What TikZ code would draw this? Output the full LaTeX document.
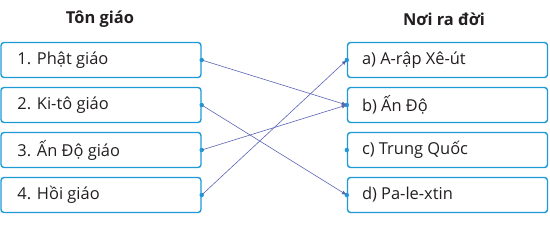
\documentclass[tikz,border=0pt]{standalone}
\usepackage{fontspec}
\setmainfont{Open Sans}
\usetikzlibrary{arrows.meta}
\definecolor{boxc}{HTML}{1E9BD7}
\definecolor{linec}{HTML}{5A64B4}
\definecolor{txt}{HTML}{231F20}
\begin{document}
\begin{tikzpicture}[x=1bp,y=-1bp,
  item/.style={draw=boxc,line width=1.4bp,rounded corners=3bp,minimum width=200bp,minimum height=35bp,inner sep=0pt},
  lab/.style={anchor=west,font=\fontsize{16.5}{19}\selectfont,text=txt,inner sep=0pt},
  title/.style={font=\bfseries\fontsize{16.5}{19}\selectfont,text=txt},
  dotc/.style={circle,fill=boxc,inner sep=0pt,minimum size=4.5bp},
  conn/.style={draw=linec,line width=0.6bp,-{Latex[length=5bp,width=4bp]}}]
\useasboundingbox (0,0) rectangle (550,233);
\node[title] (tl) at (100,19) {Tôn giáo};
\node[title] (tr) at (444,19) {Nơi ra đời};
\foreach \i/\t in {1/1. Phật giáo,2/2. Ki-tô giáo,3/3. Ấn Độ giáo,4/4. Hồi giáo}{
  \node[item] (L\i) at (101,{15+45*\i}) {};
  \node[lab] (Lt\i) at ([xshift=17bp]L\i.west) {\t};
  \node[dotc] (Ld\i) at (L\i.east) {};
}
\node[item] (Ra) at (447.5,60) {};
\node[item] (Rb) at (447.5,105) {};
\node[item] (Rc) at (447.5,150) {};
\node[item] (Rd) at (447.5,195) {};
\foreach \i/\t in {a/a) A-rập Xê-út,b/b) Ấn Độ,c/c) Trung Quốc,d/d) Pa-le-xtin}{
  \node[lab] (Rt\i) at ([xshift=15bp]R\i.west) {\t};
  \node[dotc] (Rd\i) at (R\i.west) {};
}
\draw[conn] (Ld1.center) -- (Rdb.center);
\draw[conn] (Ld2.center) -- (Rdd.center);
\draw[conn] (Ld3.center) -- (Rdb.center);
\draw[conn] (Ld4.center) -- (Rda.center);
\end{tikzpicture}
\end{document}
